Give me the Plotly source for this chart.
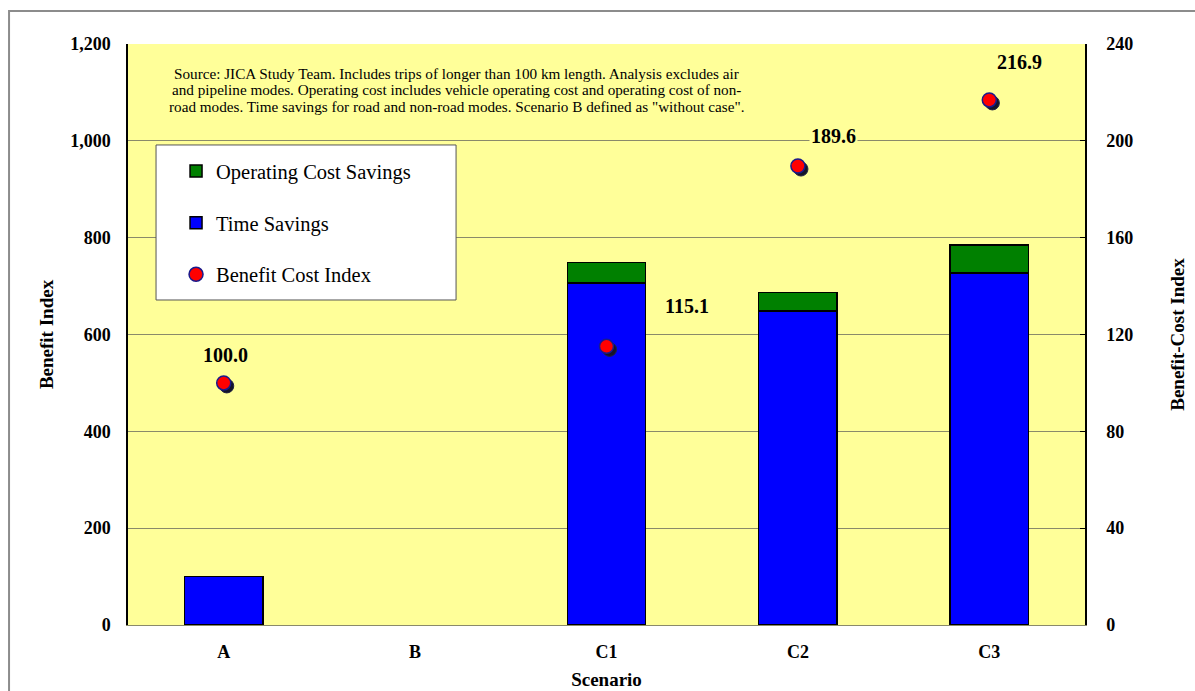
import plotly.graph_objects as go

# Scenario data
scenarios = ["A", "B", "C1", "C2", "C3"]
time_savings = [100, None, 706.6, 648.8, 727.0]
operating_cost_savings = [0, None, 42.0, 37.8, 58.0]
benefit_cost_index = [100.0, None, 115.1, 189.6, 216.9]

left_ticks = [0, 200, 400, 600, 800, 1000, 1200]
right_ticks = [0, 40, 80, 120, 160, 200, 240]

source_lines = [
    "Source: JICA Study Team. Includes trips of longer than 100 km length. Analysis excludes air",
    "and pipeline modes. Operating cost includes vehicle operating cost and operating cost of non-",
    "road modes. Time savings for road and non-road modes. Scenario B defined as \"without case\".",
]

# label offsets (px) for the benefit-cost labels
label_dx = [2, 0, 80, 36, 30]
label_dy = [28, 0, 40, 30, 38]

SERIF = "Liberation Serif, Times New Roman, serif"
PLOT_BG = "#FFFF99"
GRID = "#8a8a6a"

fig = go.Figure()

fig.add_trace(go.Bar(
    x=scenarios, y=time_savings, name="Time Savings",
    marker=dict(color="#0000FF", line=dict(color="black", width=1.5)),
    width=0.41, legendgroup="t", legendrank=2,
))
fig.add_trace(go.Bar(
    x=scenarios, y=operating_cost_savings, name="Operating Cost Savings",
    marker=dict(color="#008000", line=dict(color="black", width=1.5)),
    width=0.41, legendgroup="o", legendrank=1,
))

# shadow under the benefit-cost markers
fig.add_trace(go.Scatter(
    x=scenarios, y=benefit_cost_index, mode="markers",
    marker=dict(size=14, color="#141428", line=dict(color="#222244", width=1)),
    xaxis="x3", yaxis="y3", showlegend=False, hoverinfo="skip",
))
fig.add_trace(go.Scatter(
    x=scenarios, y=benefit_cost_index, mode="markers", name="Benefit Cost Index",
    marker=dict(size=14, color="#FF0000", line=dict(color="#1a1a8c", width=1.5)),
    xaxis="x4", yaxis="y4", legendgroup="b", legendrank=3,
))

annotations = []
for s, v, dx, dy in zip(scenarios, benefit_cost_index, label_dx, label_dy):
    if v is None:
        continue
    annotations.append(dict(
        x=s, y=v, xref="x", yref="y2", text=f"{v:.1f}", showarrow=False,
        xshift=dx, yshift=dy, bgcolor=PLOT_BG,
        font=dict(family=SERIF, size=20, color="black", weight="bold"),
    ))

for i, line in enumerate(source_lines):
    annotations.append(dict(
        x=0.3433, y=0.9495 - i * 0.0284, xref="paper", yref="paper", text=line,
        showarrow=False, xanchor="center", yanchor="middle",
        font=dict(family=SERIF, size=15.2, color="black"),
    ))

shapes = [
    # outer frame
    dict(type="rect", xref="paper", yref="paper", x0=-0.1243, x1=1.3, y0=-0.3, y1=1.0568,
         line=dict(color="#8c8c8c", width=2), fillcolor="rgba(0,0,0,0)", layer="below"),
    # legend box
    dict(type="rect", xref="paper", yref="paper", x0=0.0293, x1=0.3428, y0=0.5594, y1=0.8262,
         line=dict(color="#555555", width=1), fillcolor="white", layer="above"),
]

axis_font = dict(family=SERIF, size=18, color="black", weight="bold")
title_font = dict(family=SERIF, size=19, color="black", weight="bold")

fig.update_layout(
    width=1195, height=691,
    margin=dict(l=128, r=110, t=44, b=66),
    paper_bgcolor="white", plot_bgcolor=PLOT_BG,
    barmode="stack",
    showlegend=True,
    legend=dict(
        x=0.0502, y=0.8155, xanchor="left", yanchor="top",
        bgcolor="rgba(0,0,0,0)", borderwidth=0,
        font=dict(family=SERIF, size=20.5, color="black"),
        tracegroupgap=22, traceorder="grouped",
    ),
    xaxis=dict(
        type="category", range=[-0.5, 4.5], showgrid=False, automargin=False,
        showline=True, linecolor=GRID, linewidth=1,
        tickfont=axis_font, ticks="", ticklabelstandoff=10,
        title=dict(text="Scenario", font=title_font, standoff=12),
    ),
    yaxis=dict(
        range=[0, 1200], tickvals=left_ticks, tickformat=",", automargin=False,
        showgrid=True, gridcolor=GRID, gridwidth=1, zeroline=False,
        showline=True, linecolor="black", linewidth=1.5,
        tickfont=axis_font, ticks="", ticklabelstandoff=12,
        title=dict(text="Benefit Index", font=title_font, standoff=12),
    ),
    yaxis2=dict(
        range=[0, 240], tickvals=right_ticks, overlaying="y", side="right",
        automargin=False, showgrid=False, zeroline=False,
        showline=True, linecolor="black", linewidth=1.5,
        ticks="inside", ticklen=5, tickcolor="black",
        tickfont=axis_font, ticklabelstandoff=16,
        title=dict(text="Benefit-Cost Index", font=title_font, standoff=38),
    ),
    xaxis3=dict(
        type="category", range=[-0.5 - 0.016, 4.5 - 0.016], overlaying="x",
        visible=False, categoryorder="array", categoryarray=scenarios,
    ),
    yaxis3=dict(range=[1.25, 241.25], overlaying="y", visible=False),
    xaxis4=dict(
        type="category", range=[-0.5, 4.5], overlaying="x",
        visible=False, categoryorder="array", categoryarray=scenarios,
    ),
    yaxis4=dict(range=[0, 240], overlaying="y", visible=False),
    annotations=annotations,
    shapes=shapes,
)

fig.write_html("out.html")
